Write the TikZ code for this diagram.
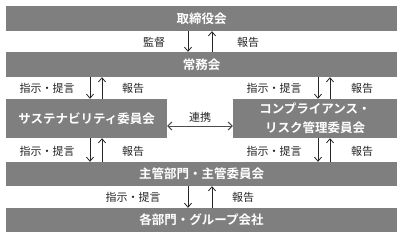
\documentclass[tikz,border=0pt]{standalone}
\usepackage{fontspec}
\setmainfont{Noto Sans CJK JP}[BoldFont={Noto Sans CJK JP Bold}]
\usetikzlibrary{arrows.meta}
\definecolor{boxgray}{HTML}{7F7F7F}
\tikzset{
  org/.style={draw=none,fill=boxgray,text=white,font=\fontsize{12.5}{19}\selectfont\bfseries,inner sep=0pt,align=center},
  lbl/.style={font=\fontsize{11}{13}\selectfont,text=black!85,inner sep=0pt},
  flow/.style={draw=black!85,line width=0.8pt,-{Straight Barb[length=4pt,width=7pt]}},
  link/.style={draw=black!70,line width=1pt,{Straight Barb[length=4pt,width=8pt]}-{Straight Barb[length=4pt,width=8pt]}}
}
\begin{document}
\begin{tikzpicture}[x=1pt,y=-1pt]
\useasboundingbox[fill=white] (0,0) rectangle (403,239);
\node[org,minimum width=391pt,minimum height=25pt] (top) at (201.5,18.5) {取締役会};
\node[org,minimum width=391pt,minimum height=25pt] (jomu) at (201.5,64.5) {常務会};
\node[org,minimum width=161pt,minimum height=39pt] (sust) at (86.5,118.5) {サステナビリティ委員会};
\node[org,minimum width=164pt,minimum height=39pt] (comp) at (315,118.5) {コンプライアンス・\\リスク管理委員会};
\node[org,minimum width=391pt,minimum height=24pt] (shukan) at (201.5,174) {主管部門・主管委員会};
\node[org,minimum width=391pt,minimum height=24pt] (kaku) at (201.5,220) {各部門・グループ会社};
\coordinate (c1) at (188,0);
\coordinate (c2) at (212,0);
\coordinate (c3) at (90,0);
\coordinate (c4) at (102,0);
\coordinate (c5) at (318,0);
\coordinate (c6) at (330,0);
\draw[flow] (c1 |- top.south) -- (c1 |- jomu.north);
\draw[flow] (c2 |- jomu.north) -- (c2 |- top.south);
\draw[flow] (c3 |- jomu.south) -- (c3 |- sust.north);
\draw[flow] (c4 |- sust.north) -- (c4 |- jomu.south);
\draw[flow] (c5 |- jomu.south) -- (c5 |- comp.north);
\draw[flow] (c6 |- comp.north) -- (c6 |- jomu.south);
\draw[flow] (c3 |- sust.south) -- (c3 |- shukan.north);
\draw[flow] (c4 |- shukan.north) -- (c4 |- sust.south);
\draw[flow] (c5 |- comp.south) -- (c5 |- shukan.north);
\draw[flow] (c6 |- shukan.north) -- (c6 |- comp.south);
\draw[flow] (c1 |- shukan.south) -- (c1 |- kaku.north);
\draw[flow] (c2 |- kaku.north) -- (c2 |- shukan.south);
\draw[link] (sust.east |- 0,126) -- (comp.west |- 0,126);
\node[lbl] (l1) at (154,42) {監督};
\node[lbl] (l2) at (248,42) {報告};
\node[lbl] (l3) at (47,88) {指示・提言};
\node[lbl] (l4) at (133,88) {報告};
\node[lbl] (l5) at (274,88) {指示・提言};
\node[lbl] (l6) at (362,88) {報告};
\node[lbl] (l7) at (200,117) {連携};
\node[lbl] (l8) at (47,151) {指示・提言};
\node[lbl] (l9) at (133,151) {報告};
\node[lbl] (l10) at (274,151) {指示・提言};
\node[lbl] (l11) at (362,151) {報告};
\node[lbl] (l12) at (133,197) {指示・提言};
\node[lbl] (l13) at (243,197) {報告};
\end{tikzpicture}
\end{document}
